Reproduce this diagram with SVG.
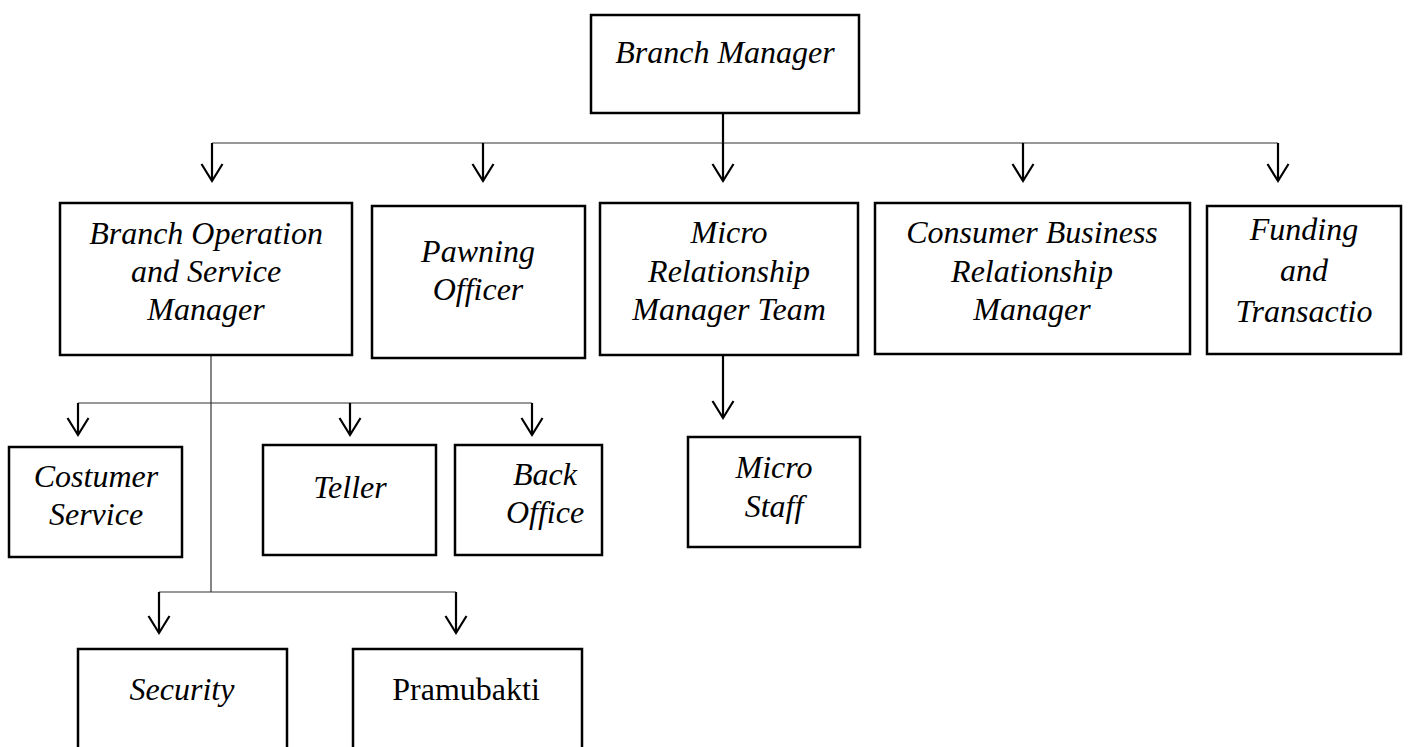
<svg xmlns="http://www.w3.org/2000/svg" width="1408" height="747" viewBox="0 0 1408 747">
<style>
.box{fill:#fff;stroke:#000;stroke-width:2.5}
.t{font-family:"Liberation Serif","Times New Roman",serif;font-size:32px;font-style:italic;text-anchor:middle;fill:#000}
.r{font-style:normal}
.thin{stroke:#333;stroke-width:1.2;fill:none}
.stem{stroke:#000;stroke-width:2.2;fill:none}
</style>
<defs>
<marker id="arr" markerUnits="userSpaceOnUse" viewBox="-20 -12 24 24" markerWidth="24" markerHeight="24" refX="0" refY="0" orient="auto" overflow="visible">
<path d="M-17,-10.5 L0,0 L-17,10.5" fill="none" stroke="#000" stroke-width="2.2"/>
</marker>
</defs>
<rect width="1408" height="747" fill="#fff"/>
<g id="connectors">
<line class="stem" x1="723" y1="113" x2="723" y2="143"/>
<line class="thin" x1="212" y1="143" x2="1278" y2="143"/>
<line class="stem" x1="212" y1="143" x2="212" y2="181" marker-end="url(#arr)"/>
<line class="stem" x1="483" y1="143" x2="483" y2="181" marker-end="url(#arr)"/>
<line class="stem" x1="723" y1="143" x2="723" y2="181" marker-end="url(#arr)"/>
<line class="stem" x1="1023" y1="143" x2="1023" y2="181" marker-end="url(#arr)"/>
<line class="stem" x1="1278" y1="143" x2="1278" y2="181" marker-end="url(#arr)"/>
<line class="thin" x1="211" y1="355" x2="211" y2="592"/>
<line class="thin" x1="78" y1="403" x2="532" y2="403"/>
<line class="stem" x1="78" y1="403" x2="78" y2="435" marker-end="url(#arr)"/>
<line class="stem" x1="350" y1="403" x2="350" y2="435" marker-end="url(#arr)"/>
<line class="stem" x1="532" y1="403" x2="532" y2="435" marker-end="url(#arr)"/>
<line class="stem" x1="723" y1="355" x2="723" y2="418" marker-end="url(#arr)"/>
<line class="thin" x1="159" y1="592" x2="456" y2="592"/>
<line class="stem" x1="159" y1="592" x2="159" y2="633" marker-end="url(#arr)"/>
<line class="stem" x1="456" y1="592" x2="456" y2="633" marker-end="url(#arr)"/>
</g>
<g id="branch-manager">
<rect class="box" x="591" y="15" width="268" height="98"/>
<text class="t" x="725" y="63">Branch Manager</text>
</g>
<g id="branch-operation">
<rect class="box" x="60" y="203" width="292" height="152"/>
<text class="t" x="206" y="244">Branch Operation</text>
<text class="t" x="206" y="282">and Service</text>
<text class="t" x="206" y="320">Manager</text>
</g>
<g id="pawning-officer">
<rect class="box" x="372" y="206" width="213" height="152"/>
<text class="t" x="478" y="262">Pawning</text>
<text class="t" x="478" y="300">Officer</text>
</g>
<g id="micro-rm-team">
<rect class="box" x="600" y="203" width="258" height="152"/>
<text class="t" x="729" y="243">Micro</text>
<text class="t" x="729" y="282">Relationship</text>
<text class="t" x="729" y="320">Manager Team</text>
</g>
<g id="consumer-business-rm">
<rect class="box" x="875" y="203" width="315" height="151"/>
<text class="t" x="1032" y="243">Consumer Business</text>
<text class="t" x="1032" y="282">Relationship</text>
<text class="t" x="1032" y="320">Manager</text>
</g>
<g id="funding-transaction">
<rect class="box" x="1207" y="206" width="194" height="148"/>
<text class="t" x="1304" y="240">Funding</text>
<text class="t" x="1304" y="281">and</text>
<text class="t" x="1304" y="322">Transactio</text>
</g>
<g id="costumer-service">
<rect class="box" x="9" y="447" width="173" height="110"/>
<text class="t" x="96" y="487">Costumer</text>
<text class="t" x="96" y="525">Service</text>
</g>
<g id="teller">
<rect class="box" x="263" y="445" width="173" height="110"/>
<text class="t" x="350" y="498">Teller</text>
</g>
<g id="back-office">
<rect class="box" x="455" y="445" width="147" height="110"/>
<text class="t" x="545" y="485">Back</text>
<text class="t" x="545" y="523">Office</text>
</g>
<g id="micro-staff">
<rect class="box" x="688" y="437" width="172" height="110"/>
<text class="t" x="774" y="478">Micro</text>
<text class="t" x="774" y="517">Staff</text>
</g>
<g id="security">
<rect class="box" x="78" y="649" width="209" height="120"/>
<text class="t" x="182" y="700">Security</text>
</g>
<g id="pramubakti">
<rect class="box" x="353" y="649" width="229" height="120"/>
<text class="t r" x="466" y="700">Pramubakti</text>
</g>
</svg>
